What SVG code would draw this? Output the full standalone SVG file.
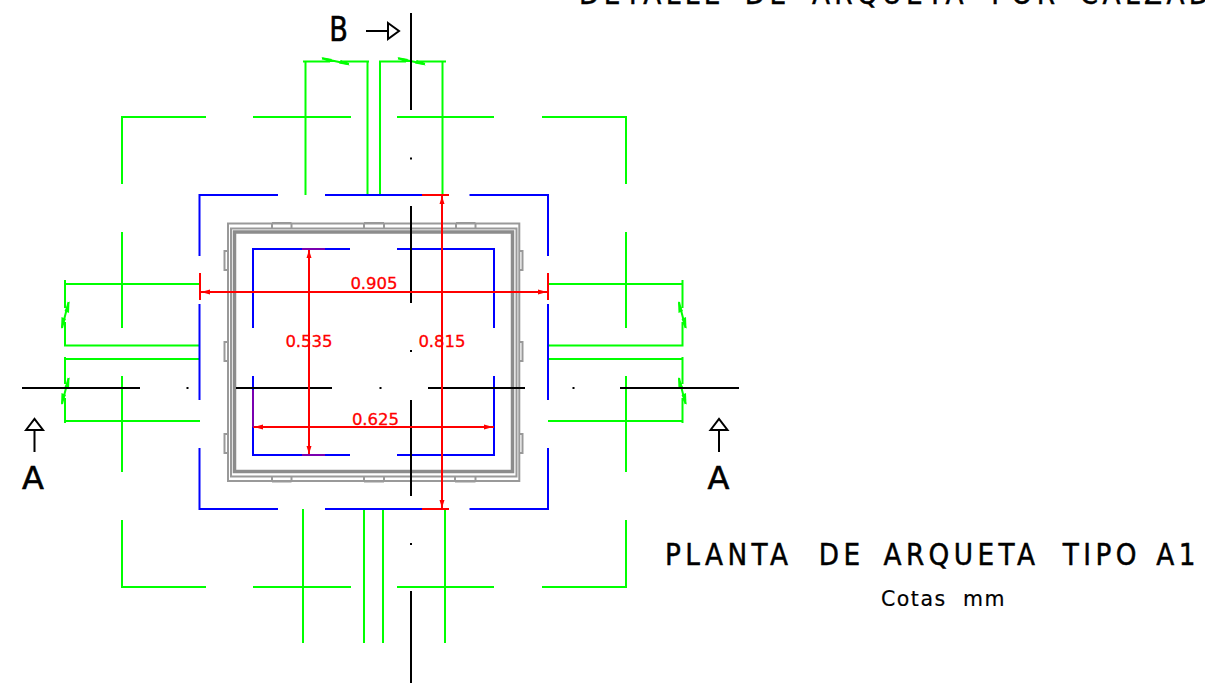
<svg xmlns="http://www.w3.org/2000/svg" width="1205" height="683" viewBox="0 0 1205 683">
<defs><style>
path,line,rect{fill:none}
.g path{stroke:#00ff00;stroke-width:2}
.g polygon{fill:#00ff00}
.b path{stroke:#0000ff;stroke-width:2}
.r path{stroke:#ff0000;stroke-width:2}
.r polygon{fill:#ff0000}
.k path{stroke:#000;stroke-width:2}
.y path,.y rect{stroke:#999;stroke-width:2}
text{font-family:"DejaVu Sans",sans-serif}
.d{font-size:16.500px;fill:#ff0000;stroke:#ff0000;stroke-width:.3;text-anchor:middle}
.t{font-size:31px;fill:#000;stroke:#000;stroke-width:.5;letter-spacing:5.200px}
.l{fill:#000;stroke:#000;stroke-width:.6;font-size:32px;text-anchor:middle}
.c{font-size:20.500px;fill:#000;stroke:#000;stroke-width:.2;letter-spacing:1.500px}
</style></defs>
<rect width="1205" height="683" style="fill:#fff"/>
<g id="walls" class="y">
<rect x="228" y="223.500" width="291.300" height="257.500"/>
<rect x="231" y="228.500" width="285.500" height="248"/>
<rect x="234.500" y="232" width="278" height="239.500" style="stroke-width:3.500;stroke:#8c8c8c"/>
<path d="M272 223V228.500M291.500 223V228.500M272 223H291.500M364 223V228.500M384 223V228.500M364 223H384M456 223V228.500M475.500 223V228.500M456 223H475.500M272 481.500V476.500M291.500 481.500V476.500M272 481.500H291.500M364 481.500V476.500M384 481.500V476.500M364 481.500H384M455 481.500V476.500M475.500 481.500V476.500M455 481.500H475.500M228 251H224.500V270H228M228 342H224.500V361H228M228 434H224.500V453H228M519 251H522.500V270H519M519 342H522.500V361H519M519 434H522.500V453H519"/>
</g>
<g id="green-lines" class="g">
<path d="M122 184V117H206M253 117H351M397 117H494M542 117H626V184M122 232V328M122 376V472M626 232V328M626 376V472M122 520V587H206M253 587H351M397 587H494M542 587H626V520"/>
<path d="M305.500 61V195M367.500 61V195M380 61V195M442.500 61V195M303 509V643M364 509V643M383 509V643M445 509V643"/>
<path d="M303 61.500H330M340 61.500H369M379 61.500H406M416 61.500H446M322 58.500L349 64M398 58.500L425 64"/>
<polygon points="321,57 332,59 330,62"/><polygon points="350,65.500 339,63.500 341,60"/><polygon points="397,57 408,59 406,62"/><polygon points="426,65.500 415,63.500 417,60"/>
<path d="M65 280V308M65 322V346.500M65 357V384M65 398V423M65 284H199M65 345.500H200M65 359H200M65 421H200M68.500 302L62 328M68.500 378L62 404"/>
<polygon points="69.500,301 69,313 64.500,311"/><polygon points="61,329 61.500,317 66,319"/><polygon points="69.500,377 69,389 64.500,387"/><polygon points="61,405 61.500,393 66,395"/>
<path d="M682.500 280V308M682.500 322V346.500M682.500 357V384M682.500 398V423M548 284H682M548 345.500H682M548 359H682M548 421H682M679 302L685.500 328M679 378L685.500 404"/>
<polygon points="678,301 678.500,313 683,311"/><polygon points="686.500,329 686,317 681.500,319"/><polygon points="678,377 678.500,389 683,387"/><polygon points="686.500,405 686,393 681.500,395"/>
</g>
<g id="blue-lines" class="b">
<path d="M278 195H199.500V256M199.500 304V400M199.500 448V509H278M325 195H422M325 509H422M469.500 195H548V256M548 304V400M548 448V509H469.500"/>
<path d="M253 328V249H350M397 249H494V328M253 376V455H350M397 455H494V376"/>
</g>
<g id="centre-lines" class="k">
<path d="M411 13V110M411 206V303M411 400V496M411 591V683M22 388H140M236 388H332M428 388H525M620 388H739"/>
<path d="M410 158.500H412M410 351H412M410 544H412M186.500 388H188.500M379.500 388H381.500M572.500 388H574.500"/>
</g>
<g id="section-marks" class="k">
<path d="M366 31H388M388 23L399 31L388 39ZM34.500 452V430M26 430L34.500 419L43 430ZM719 452V430M710.500 430L719 419L727.500 430Z"/>
<text class="l" style="font-size:34px" transform="translate(338.500 41) scale(.8 1)">B</text>
<text class="l" x="33" y="489">A</text>
<text class="l" x="718.500" y="489">A</text>
</g>
<g id="dimensions" class="r">
<path d="M200 292H548M200 273V300M548 273V300M309 249V455M253 427H494M442 195V509M422 195H449M422 509H449"/>
<path d="M302 249H325M302 455H325M253 390V427" style="stroke:#7a00b0"/>
<polygon points="201,292 210,289.500 210,294.500"/><polygon points="547,292 538,289.500 538,294.500"/>
<polygon points="309,250 306.500,258 311.500,258"/><polygon points="309,454 306.500,446 311.500,446"/>
<polygon points="254,427 263,424.500 263,429.500"/><polygon points="493,427 484,424.500 484,429.500"/>
<polygon points="442,196 439.500,204 444.500,204"/><polygon points="442,508 439.500,500 444.500,500"/>
<text class="d" x="374" y="289">0.905</text>
<text class="d" x="309" y="347">0.535</text>
<text class="d" x="442" y="347">0.815</text>
<text class="d" x="375.500" y="425">0.625</text>
</g>
<g id="titles">
<text class="t" transform="translate(579 4) scale(.85 1)"><tspan x="0">DETALLE</tspan> <tspan x="195">DE</tspan> <tspan x="274">ARQUETA</tspan> <tspan x="485">POR</tspan> <tspan x="589">CALZAD</tspan></text>
<text class="t" transform="translate(665 565) scale(.85 1)"><tspan x="0">PLANTA</tspan> <tspan x="181">DE</tspan> <tspan x="257">ARQUETA</tspan> <tspan x="468">TIPO</tspan> <tspan x="578">A1</tspan></text>
<text class="c" y="606"><tspan x="881">Cotas</tspan> <tspan x="963">mm</tspan></text>
</g>
</svg>
